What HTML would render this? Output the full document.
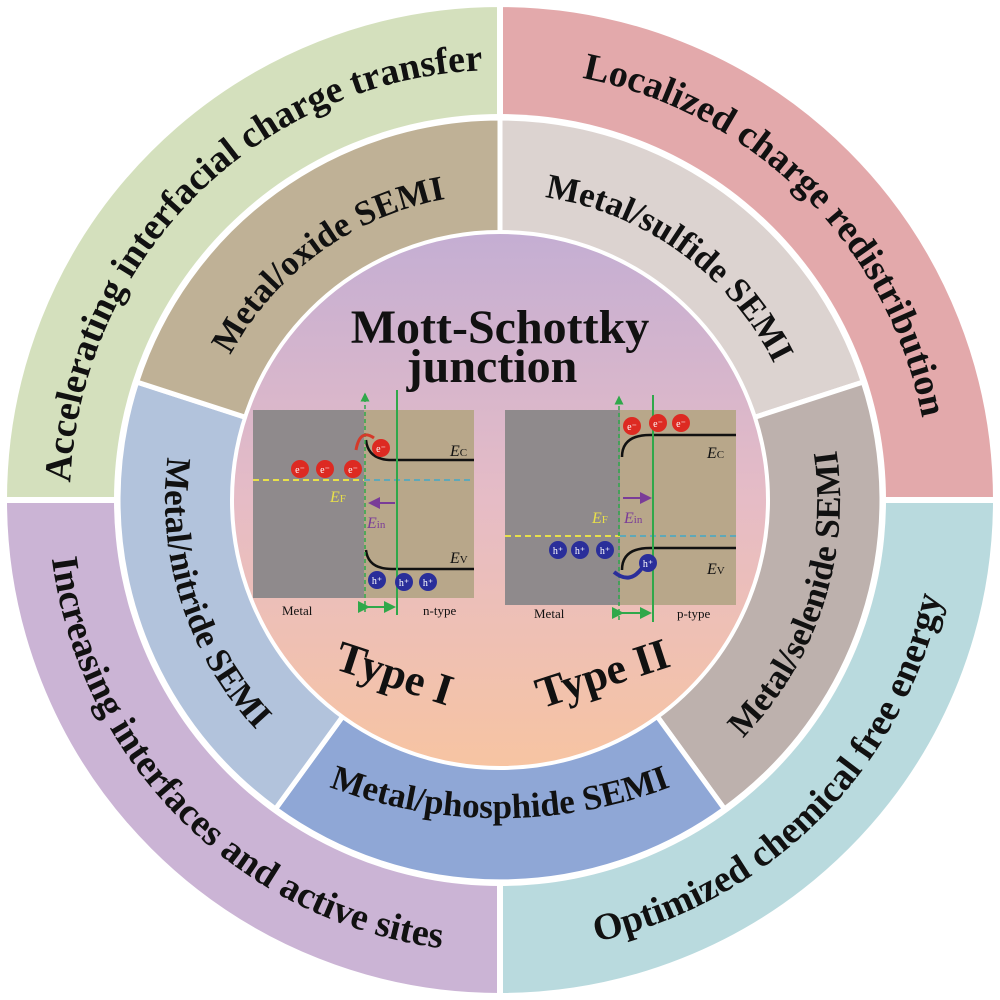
<!DOCTYPE html>
<html><head><meta charset="utf-8"><style>
html,body{margin:0;padding:0;background:#fff;}
svg{display:block;}
text{font-family:"Liberation Serif",serif;}
</style></head><body>
<svg width="1000" height="1000" viewBox="0 0 1000 1000" xmlns="http://www.w3.org/2000/svg">
<defs>
<linearGradient id="ig" x1="0" y1="0" x2="0" y2="1">
<stop offset="0" stop-color="#c4aed3"/><stop offset="0.5" stop-color="#e6bcc6"/><stop offset="1" stop-color="#f7c4a2"/>
</linearGradient>
<path id="o1" d="M 70,500 A 430 430 0 0 1 500,70"/>
<path id="o2" d="M 500,70 A 430 430 0 0 1 930,500"/>
<path id="o3" d="M 48,500 A 452 452 0 0 0 500,952"/>
<path id="o4" d="M 500,952 A 452 452 0 0 0 952,500"/>
<path id="m1" d="M 195.7,532 A 306 306 0 0 1 624.5,220.5"/>
<path id="m2" d="M 375.5,220.5 A 306 306 0 0 1 804.3,532"/>
<path id="m3" d="M 570.7,832.6 A 340 340 0 0 0 752.7,272.5"/>
<path id="m4" d="M 230,735 A 480 480 0 0 0 770,735"/>
<path id="m5" d="M 251.1,275.8 A 335 335 0 0 0 430.4,827.7"/>
<marker id="ag" markerWidth="6" markerHeight="6" refX="5" refY="3" orient="auto"><path d="M0,0 L6,3 L0,6 z" fill="#2fa84a"/></marker>
<marker id="ap" markerWidth="6" markerHeight="6" refX="5" refY="3" orient="auto"><path d="M0,0 L6,3 L0,6 z" fill="#7a3c98"/></marker>
</defs>
<g stroke="#fff" stroke-width="6">
<path d="M500,500 L4,500 A496 496 0 0 1 500,4 Z" fill="#d4e0bd"/>
<path d="M500,500 L500,4 A496 496 0 0 1 996,500 Z" fill="#e3a9ab"/>
<path d="M500,500 L996,500 A496 496 0 0 1 500,996 Z" fill="#b9dade"/>
<path d="M500,500 L500,996 A496 496 0 0 1 4,500 Z" fill="#cbb4d5"/>
</g>
<circle cx="500" cy="500" r="386" fill="#fff"/>
<g stroke="#fff" stroke-width="5">
<path d="M500,500 L500,118 A382 382 0 0 1 863.3,382 Z" fill="#dcd3d0"/>
<path d="M500,500 L863.3,382 A382 382 0 0 1 724.5,809 Z" fill="#bdb1ad"/>
<path d="M500,500 L724.5,809 A382 382 0 0 1 275.5,809 Z" fill="#8fa7d6"/>
<path d="M500,500 L275.5,809 A382 382 0 0 1 136.7,382 Z" fill="#b2c3dc"/>
<path d="M500,500 L136.7,382 A382 382 0 0 1 500,118 Z" fill="#bfb196"/>
</g>
<circle cx="500" cy="500" r="268" fill="url(#ig)" stroke="#fff" stroke-width="4"/>
<g font-size="38" font-weight="bold" fill="#111" text-anchor="middle">
<text><textPath href="#o1" startOffset="50%">Accelerating interfacial charge transfer</textPath></text>
<text><textPath href="#o2" startOffset="50%">Localized charge redistribution</textPath></text>
<text><textPath href="#o3" startOffset="50%">Increasing interfaces and active sites</textPath></text>
<text><textPath href="#o4" startOffset="50%">Optimized chemical free energy</textPath></text>
</g>
<g font-size="35" font-weight="bold" fill="#111" text-anchor="middle">
<text><textPath href="#m1" startOffset="50%">Metal/oxide SEMI</textPath></text>
<text><textPath href="#m2" startOffset="50%">Metal/sulfide SEMI</textPath></text>
<text><textPath href="#m3" startOffset="50%">Metal/selenide SEMI</textPath></text>
<text><textPath href="#m4" startOffset="50%">Metal/phosphide  SEMI</textPath></text>
<text><textPath href="#m5" startOffset="50%">Metal/nitride SEMI</textPath></text>
</g>
<g font-weight="bold" fill="#111" text-anchor="middle">
<text x="500" y="343" font-size="48">Mott-Schottky</text>
<text x="492" y="382" font-size="48">junction</text>
<text x="395" y="688" font-size="44" transform="rotate(18 395 672)">Type I</text>
<text x="602" y="688" font-size="44" transform="rotate(-18 602 672)">Type II</text>
</g>
<rect x="253" y="410" width="111" height="188" fill="#8f8a8c"/>
<rect x="364" y="410" width="110" height="188" fill="#b8a78a"/>
<line x1="253" y1="480" x2="364" y2="480" stroke="#e8e04a" stroke-width="2" stroke-dasharray="6,4"/>
<line x1="364" y1="480" x2="474" y2="480" stroke="#5fa8b8" stroke-width="2" stroke-dasharray="6,4"/>
<path d="M366,440 Q368,460 392,460 L474,460" stroke="#111" stroke-width="2.5" fill="none"/>
<path d="M366,550 Q368,569 392,569 L474,569" stroke="#111" stroke-width="2.5" fill="none"/>
<line x1="365" y1="612" x2="365" y2="394" stroke="#2fa84a" stroke-width="1.5" stroke-dasharray="4,3" marker-end="url(#ag)"/>
<line x1="397" y1="390" x2="397" y2="615" stroke="#2fa84a" stroke-width="2"/>
<line x1="368" y1="607" x2="394" y2="607" stroke="#2fa84a" stroke-width="2" marker-end="url(#ag)" marker-start="url(#ag)"/>
<path d="M374,438 Q360,428 356,450" stroke="#d43a2a" stroke-width="3" fill="none"/>
<line x1="395" y1="503" x2="370" y2="503" stroke="#7a3c98" stroke-width="2" marker-end="url(#ap)"/>
<g fill="#dd2a22"><circle cx="300" cy="469" r="9"/><circle cx="325" cy="469" r="9"/><circle cx="353" cy="469" r="9"/><circle cx="381" cy="448" r="9"/></g>
<g fill="#2a2e9a"><circle cx="377" cy="580" r="9"/><circle cx="404" cy="582" r="9"/><circle cx="428" cy="582" r="9"/></g>
<g font-size="10" fill="#fff" text-anchor="middle">
<text x="300" y="473">e⁻</text><text x="325" y="473">e⁻</text><text x="353" y="473">e⁻</text><text x="381" y="452">e⁻</text>
<text x="377" y="584">h⁺</text><text x="404" y="586">h⁺</text><text x="428" y="586">h⁺</text>
</g>
<g font-size="16" font-style="italic">
<text x="450" y="456" fill="#111">E<tspan font-size="11" font-style="normal">C</tspan></text>
<text x="450" y="563" fill="#111">E<tspan font-size="11" font-style="normal">V</tspan></text>
<text x="330" y="502" fill="#e8e04a">E<tspan font-size="11" font-style="normal">F</tspan></text>
<text x="367" y="528" fill="#7a3c98">E<tspan font-size="11" font-style="normal">in</tspan></text>
</g>
<text x="282" y="615" font-size="13" fill="#111">Metal</text>
<text x="423" y="615" font-size="13" fill="#111">n-type</text>
<rect x="505" y="410" width="115" height="195" fill="#8f8a8c"/>
<rect x="620" y="410" width="116" height="195" fill="#b8a78a"/>
<line x1="505" y1="536" x2="620" y2="536" stroke="#e8e04a" stroke-width="2" stroke-dasharray="6,4"/>
<line x1="620" y1="536" x2="736" y2="536" stroke="#5fa8b8" stroke-width="2" stroke-dasharray="6,4"/>
<path d="M622,457 Q622,435 650,435 L736,435" stroke="#111" stroke-width="2.5" fill="none"/>
<path d="M622,570 Q622,548 650,548 L736,548" stroke="#111" stroke-width="2.5" fill="none"/>
<line x1="619" y1="620" x2="619" y2="397" stroke="#2fa84a" stroke-width="1.5" stroke-dasharray="4,3" marker-end="url(#ag)"/>
<line x1="653" y1="395" x2="653" y2="622" stroke="#2fa84a" stroke-width="2"/>
<line x1="622" y1="613" x2="650" y2="613" stroke="#2fa84a" stroke-width="2" marker-end="url(#ag)" marker-start="url(#ag)"/>
<line x1="623" y1="498" x2="650" y2="498" stroke="#7a3c98" stroke-width="2" marker-end="url(#ap)"/>
<path d="M642,568 Q630,585 614,572" stroke="#2a2e9a" stroke-width="4" fill="none"/>
<g fill="#dd2a22"><circle cx="632" cy="426" r="9"/><circle cx="658" cy="423" r="9"/><circle cx="681" cy="423" r="9"/></g>
<g fill="#2a2e9a"><circle cx="558" cy="550" r="9"/><circle cx="580" cy="550" r="9"/><circle cx="605" cy="550" r="9"/><circle cx="648" cy="563" r="9"/></g>
<g font-size="10" fill="#fff" text-anchor="middle">
<text x="632" y="430">e⁻</text><text x="658" y="427">e⁻</text><text x="681" y="427">e⁻</text>
<text x="558" y="554">h⁺</text><text x="580" y="554">h⁺</text><text x="605" y="554">h⁺</text><text x="648" y="567">h⁺</text>
</g>
<g font-size="16" font-style="italic">
<text x="707" y="458" fill="#111">E<tspan font-size="11" font-style="normal">C</tspan></text>
<text x="707" y="574" fill="#111">E<tspan font-size="11" font-style="normal">V</tspan></text>
<text x="592" y="523" fill="#e8e04a">E<tspan font-size="11" font-style="normal">F</tspan></text>
<text x="624" y="523" fill="#7a3c98">E<tspan font-size="11" font-style="normal">in</tspan></text>
</g>
<text x="534" y="618" font-size="13" fill="#111">Metal</text>
<text x="677" y="618" font-size="13" fill="#111">p-type</text>
</svg>
</body></html>
